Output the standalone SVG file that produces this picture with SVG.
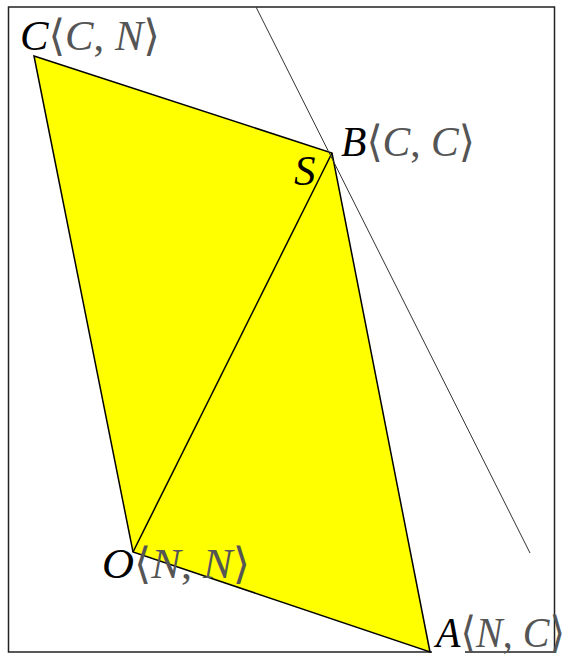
<svg xmlns="http://www.w3.org/2000/svg" width="567" height="654" viewBox="0 0 567 654">
<style>
.lbl{font-family:"Liberation Serif","DejaVu Serif",serif;font-size:43px}
.it{font-style:italic}
.main{fill:#000}
.sub{fill:#555}
.br{font-family:"DejaVu Serif","Liberation Serif",serif;font-style:normal;font-weight:200}
.edge{stroke:#000;stroke-width:1.5;fill:none}
</style>
<rect x="0" y="0" width="567" height="654" fill="#fff"/>
<rect x="8.5" y="7" width="546" height="645" fill="none" stroke="#222" stroke-width="1.5"/>
<g id="parallelogram">
<polygon points="34,56 332,153 430,652 133,552" fill="#ffff00" stroke="#000" stroke-width="1.5"/>
</g>
<g id="connectors">
<line x1="133" y1="552" x2="332" y2="153" class="edge"/>
<line x1="256" y1="7" x2="530" y2="553" stroke="#333" stroke-width="1"/>
</g>
<g id="node-C">
<text class="lbl" x="20" y="50" textLength="140" lengthAdjust="spacingAndGlyphs"><tspan class="it main">C</tspan><tspan class="sub br">⟨</tspan><tspan class="it sub">C</tspan><tspan class="sub">, </tspan><tspan class="it sub">N</tspan><tspan class="sub br">⟩</tspan></text>
</g>
<g id="node-B">
<text class="lbl" x="341" y="156" textLength="134" lengthAdjust="spacingAndGlyphs"><tspan class="it main">B</tspan><tspan class="sub br">⟨</tspan><tspan class="it sub">C</tspan><tspan class="sub">, </tspan><tspan class="it sub">C</tspan><tspan class="sub br">⟩</tspan></text>
</g>
<g id="node-S">
<text class="lbl it main" x="294" y="185">S</text>
</g>
<g id="node-O">
<text class="lbl" x="102" y="578" textLength="148" lengthAdjust="spacingAndGlyphs"><tspan class="it main">O</tspan><tspan class="sub br">⟨</tspan><tspan class="it sub">N</tspan><tspan class="sub">, </tspan><tspan class="it sub">N</tspan><tspan class="sub br">⟩</tspan></text>
</g>
<g id="node-A">
<rect x="432" y="612" width="33" height="42" fill="#fff"/>
<text class="lbl" x="436" y="647" textLength="129" lengthAdjust="spacingAndGlyphs"><tspan class="it main">A</tspan><tspan class="sub br">⟨</tspan><tspan class="it sub">N</tspan><tspan class="sub">, </tspan><tspan class="it sub">C</tspan><tspan class="sub br">⟩</tspan></text>
</g>
</svg>
